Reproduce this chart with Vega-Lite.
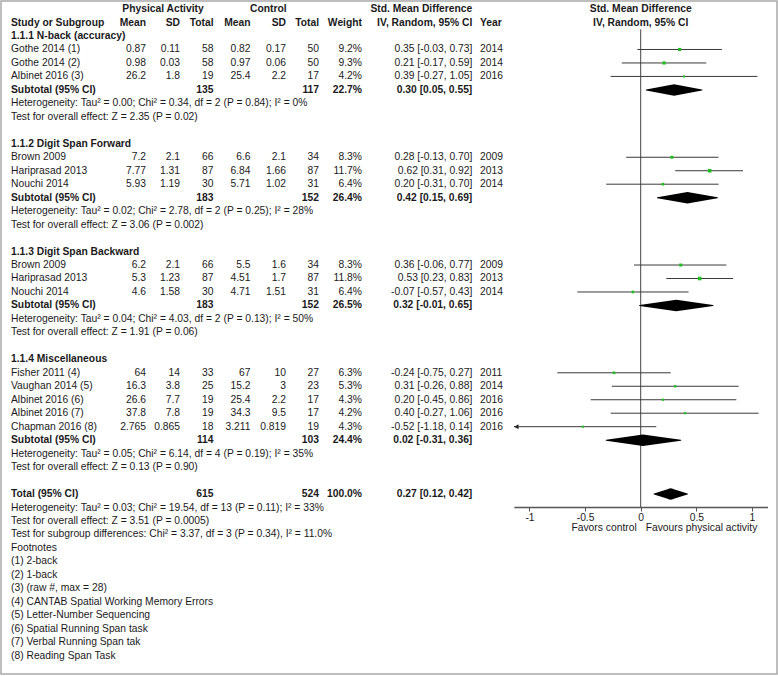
{
  "$schema": "https://vega.github.io/schema/vega-lite/v6.json",
  "width": 776,
  "height": 673,
  "padding": {"left": 1, "top": 1, "right": 1, "bottom": 2},
  "autosize": {"type": "none"},
  "background": "white",
  "config": {
    "view": {"stroke": "#a9a9a9", "strokeWidth": 1.5},
    "text": {"font": "Liberation Sans", "fontSize": 10.3, "baseline": "middle", "color": "#1a1a1a"}
  },
  "datasets": {
    "studies": [
      {"row": 1, "study": "Gothe 2014 (1)", "pa_mean": 0.87, "pa_sd": 0.11, "pa_n": 58, "c_mean": 0.82, "c_sd": 0.17, "c_n": 50, "weight": 0.092, "smd": 0.35, "lo": -0.03, "hi": 0.73, "ci": "0.35 [-0.03, 0.73]", "year": 2014},
      {"row": 2, "study": "Gothe 2014 (2)", "pa_mean": 0.98, "pa_sd": 0.03, "pa_n": 58, "c_mean": 0.97, "c_sd": 0.06, "c_n": 50, "weight": 0.093, "smd": 0.21, "lo": -0.17, "hi": 0.59, "ci": "0.21 [-0.17, 0.59]", "year": 2014},
      {"row": 3, "study": "Albinet 2016 (3)", "pa_mean": 26.2, "pa_sd": 1.8, "pa_n": 19, "c_mean": 25.4, "c_sd": 2.2, "c_n": 17, "weight": 0.042, "smd": 0.39, "lo": -0.27, "hi": 1.05, "ci": "0.39 [-0.27, 1.05]", "year": 2016},
      {"row": 9, "study": "Brown 2009", "pa_mean": 7.2, "pa_sd": 2.1, "pa_n": 66, "c_mean": 6.6, "c_sd": 2.1, "c_n": 34, "weight": 0.083, "smd": 0.28, "lo": -0.13, "hi": 0.70, "ci": "0.28 [-0.13, 0.70]", "year": 2009},
      {"row": 10, "study": "Hariprasad 2013", "pa_mean": 7.77, "pa_sd": 1.31, "pa_n": 87, "c_mean": 6.84, "c_sd": 1.66, "c_n": 87, "weight": 0.117, "smd": 0.62, "lo": 0.31, "hi": 0.92, "ci": "0.62 [0.31, 0.92]", "year": 2013},
      {"row": 11, "study": "Nouchi 2014", "pa_mean": 5.93, "pa_sd": 1.19, "pa_n": 30, "c_mean": 5.71, "c_sd": 1.02, "c_n": 31, "weight": 0.064, "smd": 0.20, "lo": -0.31, "hi": 0.70, "ci": "0.20 [-0.31, 0.70]", "year": 2014},
      {"row": 17, "study": "Brown 2009", "pa_mean": 6.2, "pa_sd": 2.1, "pa_n": 66, "c_mean": 5.5, "c_sd": 1.6, "c_n": 34, "weight": 0.083, "smd": 0.36, "lo": -0.06, "hi": 0.77, "ci": "0.36 [-0.06, 0.77]", "year": 2009},
      {"row": 18, "study": "Hariprasad 2013", "pa_mean": 5.3, "pa_sd": 1.23, "pa_n": 87, "c_mean": 4.51, "c_sd": 1.7, "c_n": 87, "weight": 0.118, "smd": 0.53, "lo": 0.23, "hi": 0.83, "ci": "0.53 [0.23, 0.83]", "year": 2013},
      {"row": 19, "study": "Nouchi 2014", "pa_mean": 4.6, "pa_sd": 1.58, "pa_n": 30, "c_mean": 4.71, "c_sd": 1.51, "c_n": 31, "weight": 0.064, "smd": -0.07, "lo": -0.57, "hi": 0.43, "ci": "-0.07 [-0.57, 0.43]", "year": 2014},
      {"row": 25, "study": "Fisher 2011 (4)", "pa_mean": 64, "pa_sd": 14, "pa_n": 33, "c_mean": 67, "c_sd": 10, "c_n": 27, "weight": 0.063, "smd": -0.24, "lo": -0.75, "hi": 0.27, "ci": "-0.24 [-0.75, 0.27]", "year": 2011},
      {"row": 26, "study": "Vaughan 2014 (5)", "pa_mean": 16.3, "pa_sd": 3.8, "pa_n": 25, "c_mean": 15.2, "c_sd": 3, "c_n": 23, "weight": 0.053, "smd": 0.31, "lo": -0.26, "hi": 0.88, "ci": "0.31 [-0.26, 0.88]", "year": 2014},
      {"row": 27, "study": "Albinet 2016 (6)", "pa_mean": 26.6, "pa_sd": 7.7, "pa_n": 19, "c_mean": 25.4, "c_sd": 2.2, "c_n": 17, "weight": 0.043, "smd": 0.20, "lo": -0.45, "hi": 0.86, "ci": "0.20 [-0.45, 0.86]", "year": 2016},
      {"row": 28, "study": "Albinet 2016 (7)", "pa_mean": 37.8, "pa_sd": 7.8, "pa_n": 19, "c_mean": 34.3, "c_sd": 9.5, "c_n": 17, "weight": 0.042, "smd": 0.40, "lo": -0.27, "hi": 1.06, "ci": "0.40 [-0.27, 1.06]", "year": 2016},
      {"row": 29, "study": "Chapman 2016 (8)", "pa_mean": 2.765, "pa_sd": 0.865, "pa_n": 18, "c_mean": 3.211, "c_sd": 0.819, "c_n": 19, "weight": 0.043, "smd": -0.52, "lo": -1.18, "hi": 0.14, "ci": "-0.52 [-1.18, 0.14]", "year": 2016}
    ],
    "subtotals": [
      {"row": 4, "label": "Subtotal (95% CI)", "pa_n": 135, "c_n": 117, "weight": 0.227, "smd": 0.30, "lo": 0.05, "hi": 0.55, "ci": "0.30 [0.05, 0.55]"},
      {"row": 12, "label": "Subtotal (95% CI)", "pa_n": 183, "c_n": 152, "weight": 0.264, "smd": 0.42, "lo": 0.15, "hi": 0.69, "ci": "0.42 [0.15, 0.69]"},
      {"row": 20, "label": "Subtotal (95% CI)", "pa_n": 183, "c_n": 152, "weight": 0.265, "smd": 0.32, "lo": -0.01, "hi": 0.65, "ci": "0.32 [-0.01, 0.65]"},
      {"row": 30, "label": "Subtotal (95% CI)", "pa_n": 114, "c_n": 103, "weight": 0.244, "smd": 0.02, "lo": -0.31, "hi": 0.36, "ci": "0.02 [-0.31, 0.36]"},
      {"row": 34, "label": "Total (95% CI)", "pa_n": 615, "c_n": 524, "weight": 1.0, "smd": 0.27, "lo": 0.12, "hi": 0.42, "ci": "0.27 [0.12, 0.42]"}
    ],
    "headings": [
      {"row": 0, "text": "1.1.1 N-back (accuracy)"},
      {"row": 8, "text": "1.1.2 Digit Span Forward"},
      {"row": 16, "text": "1.1.3 Digit Span Backward"},
      {"row": 24, "text": "1.1.4 Miscellaneous"}
    ],
    "notes": [
      {"row": 5, "text": "Heterogeneity: Tau² = 0.00; Chi² = 0.34, df = 2 (P = 0.84); I² = 0%"},
      {"row": 6, "text": "Test for overall effect: Z = 2.35 (P = 0.02)"},
      {"row": 13, "text": "Heterogeneity: Tau² = 0.02; Chi² = 2.78, df = 2 (P = 0.25); I² = 28%"},
      {"row": 14, "text": "Test for overall effect: Z = 3.06 (P = 0.002)"},
      {"row": 21, "text": "Heterogeneity: Tau² = 0.04; Chi² = 4.03, df = 2 (P = 0.13); I² = 50%"},
      {"row": 22, "text": "Test for overall effect: Z = 1.91 (P = 0.06)"},
      {"row": 31, "text": "Heterogeneity: Tau² = 0.05; Chi² = 6.14, df = 4 (P = 0.19); I² = 35%"},
      {"row": 32, "text": "Test for overall effect: Z = 0.13 (P = 0.90)"},
      {"row": 35, "text": "Heterogeneity: Tau² = 0.03; Chi² = 19.54, df = 13 (P = 0.11); I² = 33%"},
      {"row": 36, "text": "Test for overall effect: Z = 3.51 (P = 0.0005)"},
      {"row": 37, "text": "Test for subgroup differences: Chi² = 3.37, df = 3 (P = 0.34), I² = 11.0%"},
      {"row": 38, "text": "Footnotes"},
      {"row": 39, "text": "(1) 2-back"},
      {"row": 40, "text": "(2) 1-back"},
      {"row": 41, "text": "(3) (raw #, max = 28)"},
      {"row": 42, "text": "(4) CANTAB Spatial Working Memory Errors"},
      {"row": 43, "text": "(5) Letter-Number Sequencing"},
      {"row": 44, "text": "(6) Spatial Running Span task"},
      {"row": 45, "text": "(7) Verbal Running Span tak"},
      {"row": 46, "text": "(8) Reading Span Task"}
    ],
    "headers": [
      {"row": -2, "col": 1.5, "text": "Physical Activity"},
      {"row": -2, "col": 4.5, "text": "Control"},
      {"row": -2, "col": 8, "text": "Std. Mean Difference"},
      {"row": -1, "col": 0, "text": "Study or Subgroup"},
      {"row": -1, "col": 1, "text": "Mean"},
      {"row": -1, "col": 2, "text": "SD"},
      {"row": -1, "col": 3, "text": "Total"},
      {"row": -1, "col": 4, "text": "Mean"},
      {"row": -1, "col": 5, "text": "SD"},
      {"row": -1, "col": 6, "text": "Total"},
      {"row": -1, "col": 7, "text": "Weight"},
      {"row": -1, "col": 8, "text": "IV, Random, 95% CI"},
      {"row": -1, "col": 9, "text": "Year"}
    ],
    "forestHeaders": [
      {"row": -2, "text": "Std. Mean Difference"},
      {"row": -1, "text": "IV, Random, 95% CI"}
    ],
    "zeroLine": [{"smd": 0, "top": -0.5, "bottom": 35}],
    "sides": [
      {"side": "control", "label": "Favors control", "row": 36.5},
      {"side": "treatment", "label": "Favours physical activity", "row": 36.5}
    ],
    "single": [{}]
  },
  "encoding": {
    "y": {"field": "row", "type": "quantitative", "scale": {"domain": [-2.6, 47.36], "reverse": true, "nice": false, "zero": false}, "axis": null}
  },
  "layer": [
    {
      "data": {"name": "single"},
      "mark": {"type": "rule", "color": "#8a8a8a", "strokeWidth": 1.5},
      "encoding": {"y": {"datum": -0.5, "type": "quantitative", "scale": {"domain": [-2.6, 47.36], "reverse": true, "nice": false, "zero": false}, "axis": null}}
    },
    {
      "data": {"name": "headers"},
      "transform": [{"filter": "datum.col === 0 || datum.col === 9"}],
      "mark": {"type": "text", "align": "left", "fontWeight": "bold"},
      "encoding": {"x": {"field": "col", "type": "quantitative", "scale": {"domain": [0,1,2,3,4,5,6,7,8,9], "range": [10,145,179,212.5,249.5,285,318,361,471.3,479], "nice": false, "zero": false}, "axis": null}, "text": {"field": "text"}}
    },
    {
      "data": {"name": "headers"},
      "transform": [{"filter": "datum.col >= 1 && datum.col <= 8 && datum.col === floor(datum.col)"}],
      "mark": {"type": "text", "align": "right", "fontWeight": "bold"},
      "encoding": {"x": {"field": "col", "type": "quantitative", "scale": {"domain": [0,1,2,3,4,5,6,7,8,9], "range": [10,145,179,212.5,249.5,285,318,361,471.3,479], "nice": false, "zero": false}, "axis": null}, "text": {"field": "text"}}
    },
    {
      "data": {"name": "headers"},
      "transform": [{"filter": "datum.col !== floor(datum.col)"}],
      "mark": {"type": "text", "align": "center", "fontWeight": "bold"},
      "encoding": {"x": {"field": "col", "type": "quantitative", "scale": {"domain": [0,1,2,3,4,5,6,7,8,9], "range": [10,145,179,212.5,249.5,285,318,361,471.3,479], "nice": false, "zero": false}, "axis": null}, "text": {"field": "text"}}
    },
    {
      "data": {"name": "headings"},
      "mark": {"type": "text", "align": "left", "fontWeight": "bold"},
      "encoding": {"x": {"datum": 0, "type": "quantitative", "scale": {"domain": [0,1,2,3,4,5,6,7,8,9], "range": [10,145,179,212.5,249.5,285,318,361,471.3,479], "nice": false, "zero": false}, "axis": null}, "text": {"field": "text"}}
    },
    {
      "data": {"name": "notes"},
      "mark": {"type": "text", "align": "left"},
      "encoding": {"x": {"datum": 0, "type": "quantitative", "scale": {"domain": [0,1,2,3,4,5,6,7,8,9], "range": [10,145,179,212.5,249.5,285,318,361,471.3,479], "nice": false, "zero": false}, "axis": null}, "text": {"field": "text"}}
    },
    {
      "data": {"name": "studies"},
      "mark": {"type": "text", "align": "left"},
      "encoding": {"x": {"datum": 0, "type": "quantitative", "scale": {"domain": [0,1,2,3,4,5,6,7,8,9], "range": [10,145,179,212.5,249.5,285,318,361,471.3,479], "nice": false, "zero": false}, "axis": null}, "text": {"field": "study"}}
    },
    {
      "data": {"name": "studies"},
      "mark": {"type": "text", "align": "right"},
      "encoding": {"x": {"datum": 1, "type": "quantitative", "scale": {"domain": [0,1,2,3,4,5,6,7,8,9], "range": [10,145,179,212.5,249.5,285,318,361,471.3,479], "nice": false, "zero": false}, "axis": null}, "text": {"field": "pa_mean", "type": "nominal"}}
    },
    {
      "data": {"name": "studies"},
      "mark": {"type": "text", "align": "right"},
      "encoding": {"x": {"datum": 2, "type": "quantitative", "scale": {"domain": [0,1,2,3,4,5,6,7,8,9], "range": [10,145,179,212.5,249.5,285,318,361,471.3,479], "nice": false, "zero": false}, "axis": null}, "text": {"field": "pa_sd", "type": "nominal"}}
    },
    {
      "data": {"name": "studies"},
      "mark": {"type": "text", "align": "right"},
      "encoding": {"x": {"datum": 3, "type": "quantitative", "scale": {"domain": [0,1,2,3,4,5,6,7,8,9], "range": [10,145,179,212.5,249.5,285,318,361,471.3,479], "nice": false, "zero": false}, "axis": null}, "text": {"field": "pa_n", "type": "nominal"}}
    },
    {
      "data": {"name": "studies"},
      "mark": {"type": "text", "align": "right"},
      "encoding": {"x": {"datum": 4, "type": "quantitative", "scale": {"domain": [0,1,2,3,4,5,6,7,8,9], "range": [10,145,179,212.5,249.5,285,318,361,471.3,479], "nice": false, "zero": false}, "axis": null}, "text": {"field": "c_mean", "type": "nominal"}}
    },
    {
      "data": {"name": "studies"},
      "mark": {"type": "text", "align": "right"},
      "encoding": {"x": {"datum": 5, "type": "quantitative", "scale": {"domain": [0,1,2,3,4,5,6,7,8,9], "range": [10,145,179,212.5,249.5,285,318,361,471.3,479], "nice": false, "zero": false}, "axis": null}, "text": {"field": "c_sd", "type": "nominal"}}
    },
    {
      "data": {"name": "studies"},
      "mark": {"type": "text", "align": "right"},
      "encoding": {"x": {"datum": 6, "type": "quantitative", "scale": {"domain": [0,1,2,3,4,5,6,7,8,9], "range": [10,145,179,212.5,249.5,285,318,361,471.3,479], "nice": false, "zero": false}, "axis": null}, "text": {"field": "c_n", "type": "nominal"}}
    },
    {
      "data": {"name": "studies"},
      "mark": {"type": "text", "align": "right"},
      "encoding": {"x": {"datum": 7, "type": "quantitative", "scale": {"domain": [0,1,2,3,4,5,6,7,8,9], "range": [10,145,179,212.5,249.5,285,318,361,471.3,479], "nice": false, "zero": false}, "axis": null}, "text": {"field": "weight", "type": "quantitative", "format": ".1%"}}
    },
    {
      "data": {"name": "studies"},
      "mark": {"type": "text", "align": "right"},
      "encoding": {"x": {"datum": 8, "type": "quantitative", "scale": {"domain": [0,1,2,3,4,5,6,7,8,9], "range": [10,145,179,212.5,249.5,285,318,361,471.3,479], "nice": false, "zero": false}, "axis": null}, "text": {"field": "ci", "type": "nominal"}}
    },
    {
      "data": {"name": "studies"},
      "mark": {"type": "text", "align": "left"},
      "encoding": {"x": {"datum": 9, "type": "quantitative", "scale": {"domain": [0,1,2,3,4,5,6,7,8,9], "range": [10,145,179,212.5,249.5,285,318,361,471.3,479], "nice": false, "zero": false}, "axis": null}, "text": {"field": "year", "type": "nominal"}}
    },
    {
      "data": {"name": "subtotals"},
      "mark": {"type": "text", "align": "left", "fontWeight": "bold"},
      "encoding": {"x": {"datum": 0, "type": "quantitative", "scale": {"domain": [0,1,2,3,4,5,6,7,8,9], "range": [10,145,179,212.5,249.5,285,318,361,471.3,479], "nice": false, "zero": false}, "axis": null}, "text": {"field": "label"}}
    },
    {
      "data": {"name": "subtotals"},
      "mark": {"type": "text", "align": "right", "fontWeight": "bold"},
      "encoding": {"x": {"datum": 3, "type": "quantitative", "scale": {"domain": [0,1,2,3,4,5,6,7,8,9], "range": [10,145,179,212.5,249.5,285,318,361,471.3,479], "nice": false, "zero": false}, "axis": null}, "text": {"field": "pa_n", "type": "nominal"}}
    },
    {
      "data": {"name": "subtotals"},
      "mark": {"type": "text", "align": "right", "fontWeight": "bold"},
      "encoding": {"x": {"datum": 6, "type": "quantitative", "scale": {"domain": [0,1,2,3,4,5,6,7,8,9], "range": [10,145,179,212.5,249.5,285,318,361,471.3,479], "nice": false, "zero": false}, "axis": null}, "text": {"field": "c_n", "type": "nominal"}}
    },
    {
      "data": {"name": "subtotals"},
      "mark": {"type": "text", "align": "right", "fontWeight": "bold"},
      "encoding": {"x": {"datum": 7, "type": "quantitative", "scale": {"domain": [0,1,2,3,4,5,6,7,8,9], "range": [10,145,179,212.5,249.5,285,318,361,471.3,479], "nice": false, "zero": false}, "axis": null}, "text": {"field": "weight", "type": "quantitative", "format": ".1%"}}
    },
    {
      "data": {"name": "subtotals"},
      "mark": {"type": "text", "align": "right", "fontWeight": "bold"},
      "encoding": {"x": {"datum": 8, "type": "quantitative", "scale": {"domain": [0,1,2,3,4,5,6,7,8,9], "range": [10,145,179,212.5,249.5,285,318,361,471.3,479], "nice": false, "zero": false}, "axis": null}, "text": {"field": "ci", "type": "nominal"}}
    },
    {
      "data": {"name": "zeroLine"},
      "mark": {"type": "rule", "color": "#444444", "strokeWidth": 1},
      "encoding": {
        "x": {"field": "smd", "type": "quantitative", "scale": {"domain": [-1.14, 1.14], "range": [512.9, 766.5], "clamp": true, "nice": false, "zero": false}, "axis": null},
        "y": {"field": "top", "type": "quantitative", "scale": {"domain": [-2.6, 47.36], "reverse": true, "nice": false, "zero": false}, "axis": null},
        "y2": {"field": "bottom"}
      }
    },
    {
      "data": {"name": "studies"},
      "mark": {"type": "rule", "color": "#3a3a3a", "strokeWidth": 1},
      "encoding": {
        "x": {"field": "lo", "type": "quantitative", "scale": {"domain": [-1.14, 1.14], "range": [512.9, 766.5], "clamp": true, "nice": false, "zero": false},
          "axis": {"orient": "bottom", "values": [-1, -0.5, 0, 0.5, 1], "labelExpr": "'' + datum.value", "title": null, "grid": false, "offset": -167, "domainColor": "#555555", "domainWidth": 1.5, "tickColor": "#555555", "tickSize": 4, "tickWidth": 1, "labelFont": "Liberation Sans", "labelFontSize": 10.3, "labelColor": "#1a1a1a", "labelPadding": 1, "labelFlush": false, "labelOverlap": false, "labelBound": false}},
        "x2": {"field": "hi"}
      }
    },
    {
      "data": {"name": "studies"},
      "transform": [{"filter": "datum.lo < -1.14"}],
      "mark": {"type": "point", "shape": "triangle-left", "filled": true, "color": "#222222", "size": 24, "xOffset": 2.5, "opacity": 1},
      "encoding": {
        "x": {"field": "lo", "type": "quantitative", "scale": {"domain": [-1.14, 1.14], "range": [512.9, 766.5], "clamp": true, "nice": false, "zero": false}, "axis": null}
      }
    },
    {
      "data": {"name": "studies"},
      "mark": {"type": "point", "shape": "square", "filled": true, "color": "#1fbf1f", "opacity": 1},
      "encoding": {
        "x": {"field": "smd", "type": "quantitative", "scale": {"domain": [-1.14, 1.14], "range": [512.9, 766.5], "clamp": true, "nice": false, "zero": false}, "axis": null},
        "size": {"field": "weight", "type": "quantitative", "scale": {"domain": [0, 0.12], "range": [0, 13]}, "legend": null}
      }
    },
    {
      "data": {"name": "subtotals"},
      "transform": [{"fold": ["lo", "smd", "hi"], "as": ["key", "xv"]}],
      "mark": {"type": "trail", "color": "#000000"},
      "encoding": {
        "x": {"field": "xv", "type": "quantitative", "scale": {"domain": [-1.14, 1.14], "range": [512.9, 766.5], "clamp": true, "nice": false, "zero": false}, "axis": null},
        "detail": {"field": "row", "type": "nominal"},
        "order": {"field": "xv", "type": "quantitative"},
        "size": {"condition": {"test": "datum.key === 'smd'", "value": 11.5}, "value": 0}
      }
    },
    {
      "data": {"name": "forestHeaders"},
      "mark": {"type": "text", "align": "center", "fontWeight": "bold"},
      "encoding": {
        "x": {"datum": 0, "type": "quantitative", "scale": {"domain": [-1.14, 1.14], "range": [512.9, 766.5], "clamp": true, "nice": false, "zero": false}, "axis": null},
        "text": {"field": "text"}
      }
    },
    {
      "data": {"name": "sides"},
      "transform": [{"filter": "datum.side === 'control'"}],
      "mark": {"type": "text", "align": "right", "dx": -4},
      "encoding": {
        "x": {"datum": 0, "type": "quantitative", "scale": {"domain": [-1.14, 1.14], "range": [512.9, 766.5], "clamp": true, "nice": false, "zero": false}, "axis": null},
        "text": {"field": "label"}
      }
    },
    {
      "data": {"name": "sides"},
      "transform": [{"filter": "datum.side === 'treatment'"}],
      "mark": {"type": "text", "align": "left", "dx": 5},
      "encoding": {
        "x": {"datum": 0, "type": "quantitative", "scale": {"domain": [-1.14, 1.14], "range": [512.9, 766.5], "clamp": true, "nice": false, "zero": false}, "axis": null},
        "text": {"field": "label"}
      }
    }
  ],
  "resolve": {"scale": {"x": "independent"}, "axis": {"x": "independent"}}
}
